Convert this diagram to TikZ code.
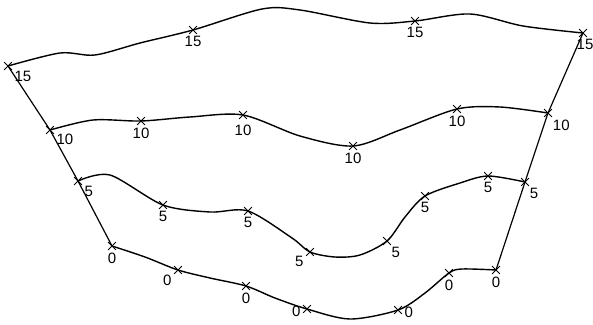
\documentclass[tikz,border=0pt]{standalone}
\usepackage{fontspec}
\usepackage{tikz}
\usetikzlibrary{shapes.misc}
\newfontfamily\numfont{Liberation Sans}

\begin{document}
\begin{tikzpicture}[x=1pt,y=-1pt]
  \tikzstyle{xpt}=[cross out,draw,line width=0.8pt,minimum size=7pt,inner sep=0pt]
  \tikzstyle{num}=[font=\numfont\fontsize{15}{15}\selectfont,inner sep=2.5pt]
  \tikzstyle{contour}=[line width=1.4pt,line cap=round]
  \useasboundingbox (0,0) rectangle (593,324);
  % level 15
  \node[xpt,label={[num]-35:15}] (a15) at (8,66) {};
  \node[xpt,label={[num]below:15}] (b15) at (193,30) {};
  \node[xpt,label={[num]below:15}] (c15) at (415,21) {};
  \node[xpt,label={[num,xshift=2pt]below:15}] (d15) at (583,33) {};
  % level 10
  \node[xpt,label={[num]-25:10}] (a10) at (50,130) {};
  \node[xpt,label={[num]below:10}] (b10) at (141,121) {};
  \node[xpt,label={[num,yshift=-3pt]below:10}] (c10) at (243,115) {};
  \node[xpt,label={[num]below:10}] (d10) at (353,146) {};
  \node[xpt,label={[num]below:10}] (e10) at (457,109) {};
  \node[xpt,label={[num]-60:10}] (f10) at (548,113) {};
  % level 5
  \node[xpt,label={[num]-35:5}] (a5) at (78,181) {};
  \node[xpt,label={[num]below:5}] (b5) at (163,205) {};
  \node[xpt,label={[num]below:5}] (c5) at (248,211) {};
  \node[xpt,label={[num]-160:5}] (d5) at (310,252) {};
  \node[xpt,label={[num]-65:5}] (e5) at (387,241) {};
  \node[xpt,label={[num]below:5}] (f5) at (425,196) {};
  \node[xpt,label={[num]below:5}] (g5) at (488,176) {};
  \node[xpt,label={[num]-60:5}] (h5) at (525,182) {};
  % level 0
  \node[xpt,label={[num]below:0}] (a0) at (112,246) {};
  \node[xpt,label={[num]-145:0}] (b0) at (178,270) {};
  \node[xpt,label={[num]below:0}] (c0) at (246,286) {};
  \node[xpt,label={[num,yshift=-2pt]left:0}] (d0) at (307,309) {};
  \node[xpt,label={[num,yshift=-2pt]right:0}] (e0) at (398,310) {};
  \node[xpt,label={[num]below:0}] (f0) at (449,273) {};
  \node[xpt,label={[num]below:0}] (g0) at (496,270) {};
  % contours
  \draw[contour] plot[smooth] coordinates {(a15.center) (60,53) (95,55) (140,43) (b15.center)
    (262,9) (300,10) (370,23) (c15.center) (470,14) (523,26) (d15.center)};
  \draw[contour] plot[smooth] coordinates {(a10.center) (93,120) (b10.center) (190,117) (c10.center)
    (300,136) (d10.center) (400,130) (e10.center) (500,107) (f10.center)};
  \draw[contour] plot[smooth] coordinates {(a5.center) (110,175) (b5.center) (210,212) (c5.center)
    (292,238) (d5.center) (335,257) (360,255) (e5.center) (405,217) (f5.center) (460,183)
    (g5.center) (h5.center)};
  \draw[contour] plot[smooth] coordinates {(a0.center) (145,257) (b0.center) (210,278) (c0.center)
    (275,298) (d0.center) (350,319) (e0.center) (425,293) (f0.center) (462,269) (g0.center)};
  % sides
  \draw[line width=1.2pt] (a15.center) -- (a10.center) -- (a5.center) -- (a0.center);
  \draw[line width=1.2pt] (d15.center) -- (f10.center) -- (h5.center) -- (g0.center);
\end{tikzpicture}
\end{document}
